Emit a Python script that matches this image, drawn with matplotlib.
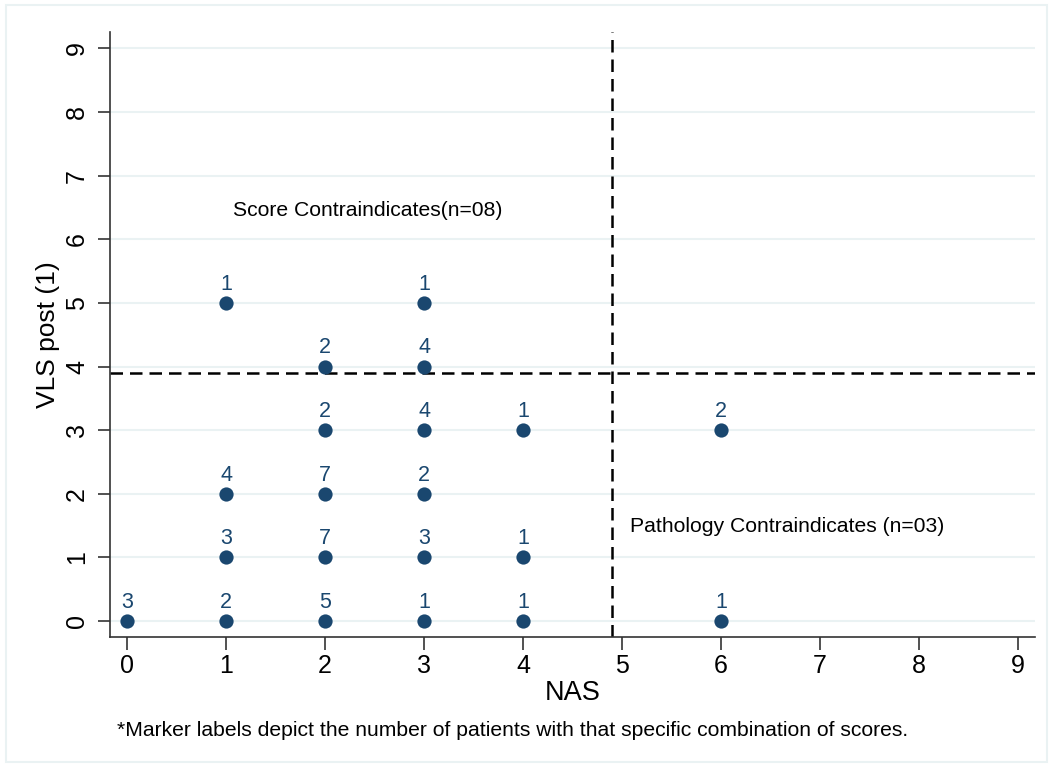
import matplotlib.pyplot as plt
from matplotlib.patches import Rectangle

plt.rcParams['font.family'] = ['Liberation Sans', 'DejaVu Sans']

# NAS score, VLS post score, number of patients at that combination
nas = [0, 1, 2, 3, 4, 6,
       1, 2, 3, 4,
       1, 2, 3,
       2, 3, 4, 6,
       2, 3,
       1, 3]
vls = [0, 0, 0, 0, 0, 0,
       1, 1, 1, 1,
       2, 2, 2,
       3, 3, 3, 3,
       4, 4,
       5, 5]
counts = [3, 2, 5, 1, 1, 1,
          3, 7, 3, 1,
          4, 7, 2,
          2, 4, 1, 2,
          2, 4,
          1, 1]

nas_cut = 4.9
vls_cut = 3.9
ticks = list(range(10))

navy = '#1a476f'
grid = '#eaf2f3'


def main():
    fig = plt.figure(figsize=(10.51, 7.65), dpi=100)
    fig.patches.append(Rectangle((0.006, 0.004), 0.99, 0.99, transform=fig.transFigure,
                                 fill=False, edgecolor=grid, lw=1.5))
    ax = fig.add_axes([0.1047, 0.1673, 0.880, 0.791])

    ax.scatter(nas, vls, s=105, color=navy, zorder=3, linewidths=0)
    for x, y, n in zip(nas, vls, counts):
        ax.annotate(str(n), (x, y), xytext=(0, 6), textcoords='offset points',
                    ha='center', va='bottom', color=navy, fontsize=15.5)

    ax.axvline(nas_cut, color='black', lw=1.8, dashes=(5, 2.8), zorder=2)
    ax.axhline(vls_cut, color='black', lw=1.8, dashes=(5, 2.8), zorder=2)

    ax.text(1.07, 6.46, 'Score Contraindicates(n=08)', fontsize=15.2, va='center')
    ax.text(5.08, 1.48, 'Pathology Contraindicates (n=03)', fontsize=15.2, va='center')

    ax.set_xlim(-0.172, 9.17)
    ax.set_ylim(-0.25, 9.26)
    ax.set_xticks(ticks)
    ax.set_yticks(ticks)
    ax.tick_params(labelsize=18, length=9, width=1.2, color='#333333')
    ax.tick_params(axis='y', pad=6)
    for lab in ax.get_yticklabels():
        lab.set_rotation(90)
        lab.set_va('center')
    ax.yaxis.grid(True, color=grid, lw=1.5)
    ax.set_axisbelow(True)
    for side in ['top', 'right']:
        ax.spines[side].set_visible(False)
    for side in ['left', 'bottom']:
        ax.spines[side].set_color('#333333')
        ax.spines[side].set_linewidth(1.2)

    ax.set_xlabel('NAS', fontsize=19.5, labelpad=1)
    ax.set_ylabel('VLS post (1)', fontsize=19, labelpad=4)
    fig.text(117 / 1051, 1 - 730 / 765,
             '*Marker labels depict the number of patients with that specific combination of scores.',
             fontsize=15.2, va='center')

    fig.savefig('out.png', dpi=100)


if __name__ == "__main__":
    main()
